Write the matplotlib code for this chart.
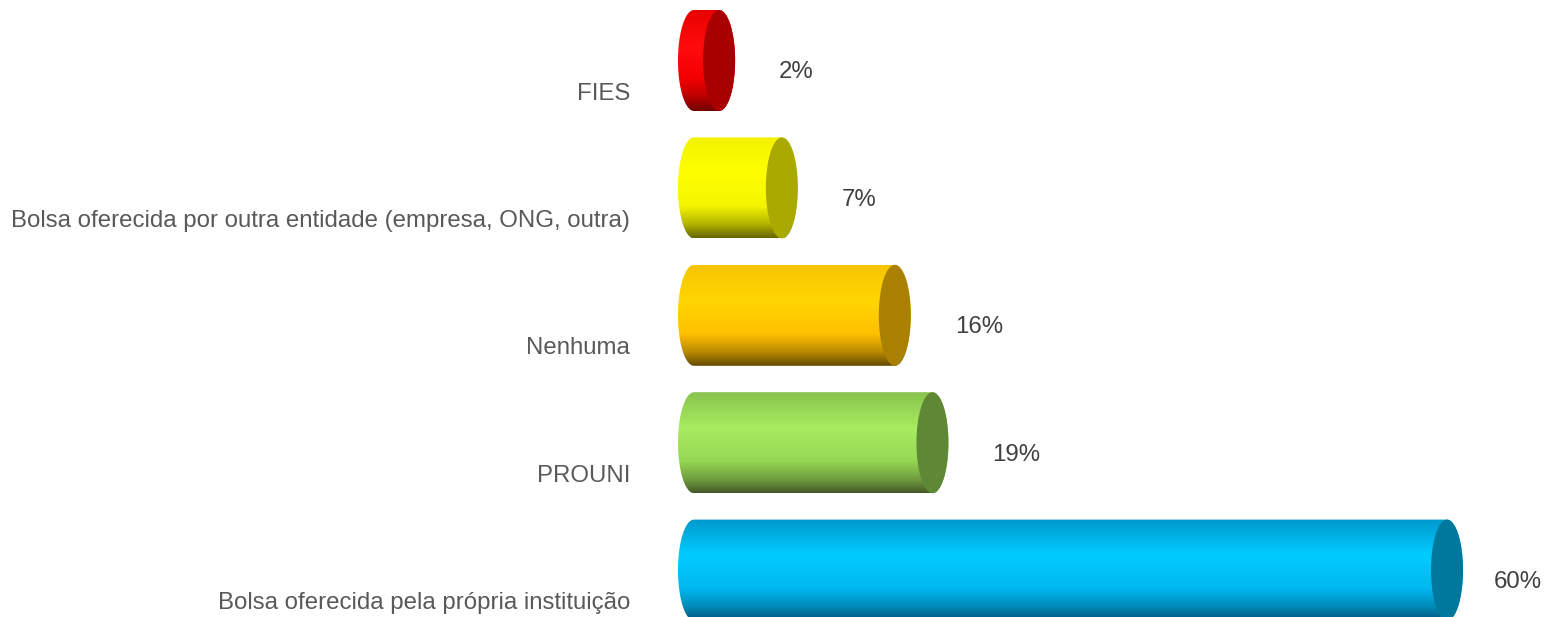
import numpy as np
from matplotlib import pyplot as plt
from matplotlib.path import Path
from matplotlib.patches import PathPatch, Ellipse
from matplotlib.colors import to_rgb

plt.rcParams['font.family'] = ['Liberation Sans', 'DejaVu Sans']

# data, top to bottom
categories = ['FIES',
              'Bolsa oferecida por outra entidade (empresa, ONG, outra)',
              'Nenhuma',
              'PROUNI',
              'Bolsa oferecida pela própria instituição']
values = [2, 7, 16, 19, 60]
value_labels = ['2%', '7%', '16%', '19%', '60%']

# body colours: top edge, highlight, base, bottom shadow ; plus end cap
tops = ['#e80000', '#f2f200', '#f7c400', '#88c44e', '#0098cc']
lights = ['#ff0c0c', '#ffff00', '#ffd600', '#a8ec60', '#00ccff']
bases = ['#f50000', '#f5f500', '#ffc000', '#96d854', '#00b8f0']
darks = ['#700000', '#666600', '#654a00', '#445a26', '#00567a']
caps = ['#a80000', '#a9a900', '#a98000', '#5f8836', '#00789e']

W, H = 1544, 617
px_per_pct = 12.55      # horizontal scale
x0_px = 694             # where 0% sits
row_px = 127.4          # distance between bars
first_px = 60.5         # centre of first bar
bar_h = 101 / row_px
rx = 16 / px_per_pct    # half width of the end ellipses


def gradient(top, light, base, dark, n=200):
    ## vertical colour ramp for one cylinder
    top, light, base, dark = [np.array(to_rgb(c)) for c in (top, light, base, dark)]
    stops = [0.0, 0.35, 0.68, 0.86, 1.0]
    cols = np.array([top, light, base, 0.55 * base + 0.45 * dark, dark])
    t = np.linspace(0, 1, n)
    img = np.zeros((n, 1, 3))
    for k in range(3):
        img[:, 0, k] = np.interp(t, stops, cols[:, k])
    return img


def cylinder(ax, v, c, i):
    # outline: left half ellipse at 0, right half ellipse at v
    t1 = np.linspace(np.pi / 2, 3 * np.pi / 2, 60)
    t2 = np.linspace(-np.pi / 2, np.pi / 2, 60)
    xs = np.concatenate([rx * np.cos(t1), v + rx * np.cos(t2)])
    ys = np.concatenate([c + bar_h / 2 * np.sin(t1), c + bar_h / 2 * np.sin(t2)])
    verts = np.column_stack((xs, ys))
    verts = np.vstack([verts, verts[:1]])
    codes = [Path.MOVETO] + [Path.LINETO] * (len(verts) - 2) + [Path.CLOSEPOLY]
    body = PathPatch(Path(verts, codes), facecolor='none', edgecolor='none')
    ax.add_patch(body)
    im = ax.imshow(gradient(tops[i], lights[i], bases[i], darks[i]),
                   extent=(-rx, v + rx, c + bar_h / 2, c - bar_h / 2),
                   origin='upper', aspect='auto', interpolation='bilinear', zorder=2)
    im.set_clip_path(body)
    cap = Ellipse((v, c), 2 * rx, bar_h, facecolor=caps[i], edgecolor='none', zorder=3)
    ax.add_patch(cap)


fig = plt.figure(figsize=(W / 100, H / 100), dpi=100)
ax = fig.add_axes([0, 0, 1, 1])

xlim = (-x0_px / px_per_pct, (W - x0_px) / px_per_pct)
ylim = ((H - first_px) / row_px, -first_px / row_px)

for i, (cat, v, lab) in enumerate(zip(categories, values, value_labels)):
    cylinder(ax, v, i, i)
    # category label sits low, right aligned left of the bars
    ax.text(-(x0_px - 630) / px_per_pct, i + 33 / row_px, cat, ha='right', va='center',
            fontsize=17.3, color='#595959')
    xt = min(v + 60 / px_per_pct, xlim[1] - 50 / px_per_pct)
    ax.text(xt, i + 12 / row_px, lab, ha='left', va='center', fontsize=17.3, color='#404040')

ax.set_xlim(*xlim)
ax.set_ylim(*ylim)
ax.axis('off')

fig.savefig('out.png', dpi=100)
